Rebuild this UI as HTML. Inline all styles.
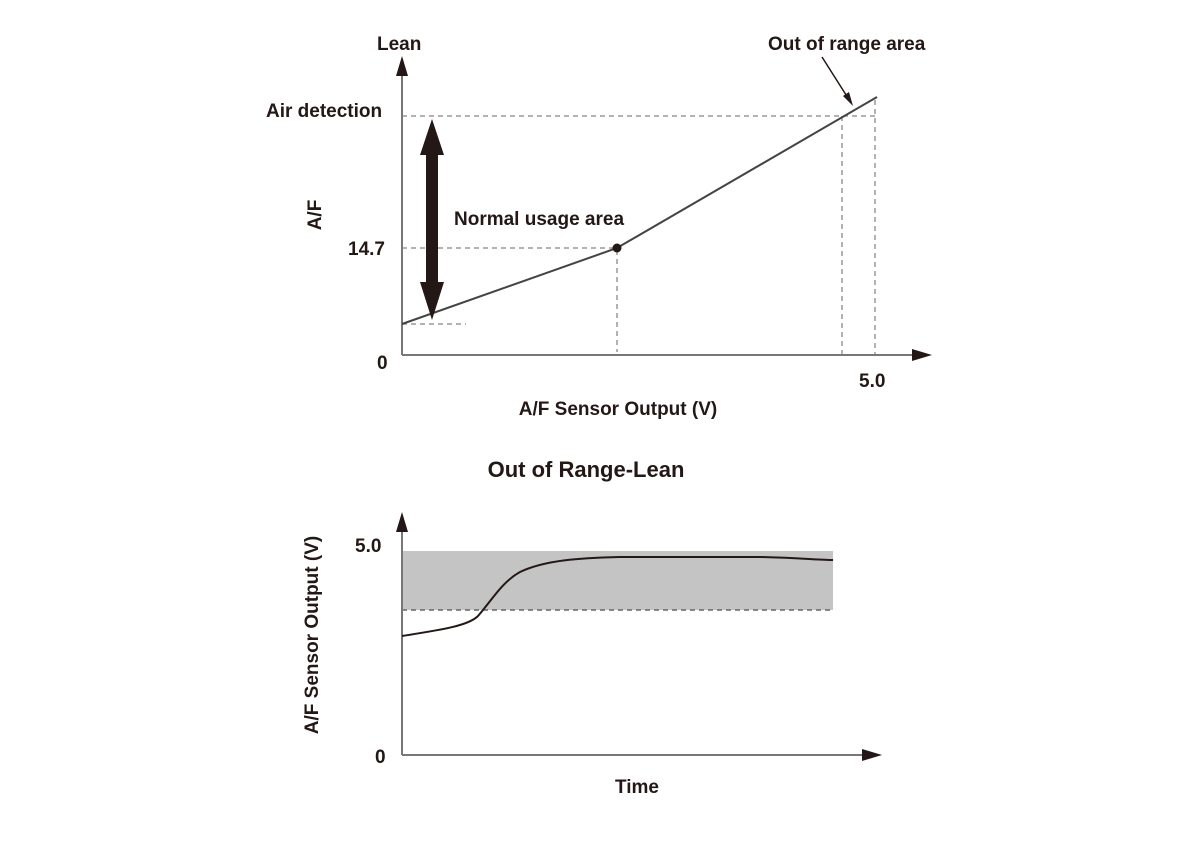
<!DOCTYPE html>
<html><head><meta charset="utf-8"><style>
html,body{margin:0;padding:0;background:#fff;}
svg{display:block;}
text{font-family:"Liberation Sans",Arial,sans-serif;font-weight:bold;font-size:19px;fill:#231815;}
</style></head><body>
<svg width="1200" height="859" viewBox="0 0 1200 859" xmlns="http://www.w3.org/2000/svg">
<g stroke="#999" stroke-width="1.5" stroke-dasharray="5,4" fill="none">
<line x1="402" y1="116" x2="875" y2="116"/>
<line x1="402" y1="248" x2="617" y2="248"/>
<line x1="402" y1="324" x2="466" y2="324"/>
<line x1="617" y1="250" x2="617" y2="352"/>
<line x1="842" y1="116" x2="842" y2="354"/>
<line x1="875" y1="100" x2="875" y2="354"/>
</g>
<line x1="402" y1="70" x2="402" y2="355" stroke="#777" stroke-width="2"/>
<line x1="402" y1="355" x2="915" y2="355" stroke="#777" stroke-width="2"/>
<polygon points="402,56 396,76 408,76" fill="#231815"/>
<polygon points="932,355 912,349 912,361" fill="#231815"/>
<polyline points="402,324 617,248 877,97" fill="none" stroke="#444" stroke-width="2"/>
<circle cx="617" cy="248" r="4.5" fill="#231815"/>
<polygon points="432,119 444,155 438,155 438,282 444,282 432,320 420,282 426,282 426,155 420,155" fill="#231815"/>
<line x1="822" y1="57" x2="848" y2="98" stroke="#231815" stroke-width="1.5"/>
<polygon points="853,106 843,96 849,92" fill="#231815"/>
<text x="377" y="50">Lean</text>
<text x="768" y="50">Out of range area</text>
<text x="266" y="117">Air detection</text>
<text x="454" y="225">Normal usage area</text>
<text x="348" y="255">14.7</text>
<text x="377" y="369">0</text>
<text x="859" y="387">5.0</text>
<text x="618" y="415" text-anchor="middle">A/F Sensor Output (V)</text>
<text transform="translate(321,215) rotate(-90)" text-anchor="middle">A/F</text>
<text x="586" y="477" text-anchor="middle" style="font-size:22px">Out of Range-Lean</text>
<rect x="402" y="551" width="431" height="59" fill="#c4c4c4"/>
<line x1="402" y1="610" x2="833" y2="610" stroke="#666" stroke-width="1.5" stroke-dasharray="5,4"/>
<line x1="402" y1="525" x2="402" y2="755" stroke="#777" stroke-width="2"/>
<line x1="402" y1="755" x2="865" y2="755" stroke="#777" stroke-width="2"/>
<polygon points="402,512 396,532 408,532" fill="#231815"/>
<polygon points="882,755 862,749 862,761" fill="#231815"/>
<path d="M402,636 C440,630 468,626 478,616 C492,600 502,582 520,572 C545,560 580,558 620,557 L760,557 C800,558 820,560 833,560" fill="none" stroke="#231815" stroke-width="2"/>
<text x="355" y="552">5.0</text>
<text x="375" y="763">0</text>
<text x="637" y="793" text-anchor="middle">Time</text>
<text transform="translate(318,635) rotate(-90)" text-anchor="middle">A/F Sensor Output (V)</text>
</svg>
</body></html>
